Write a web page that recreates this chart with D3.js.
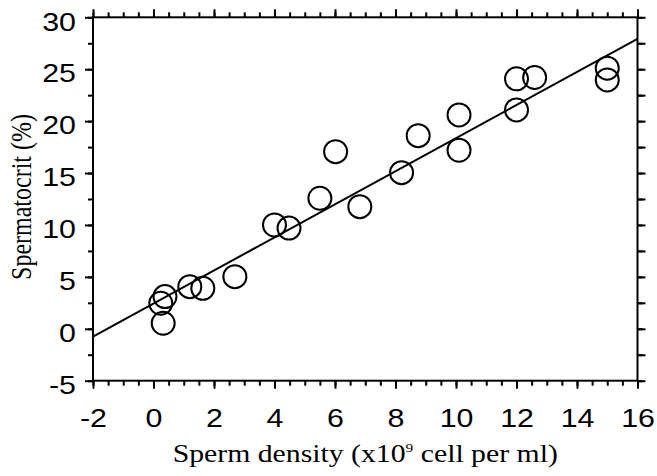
<!DOCTYPE html>
<html>
<head>
<meta charset="utf-8">
<script src="https://cdn.jsdelivr.net/npm/d3@7"></script>
<style>
  body { margin: 0; background: #fff; }
  svg { display: block; }
</style>
</head>
<body>
<svg id="chart" width="657" height="476"></svg>
<script>
// sperm density (x10^9 cell per ml)
var density = [0.24, 0.38, 0.32, 1.2, 1.63, 2.69, 4.0, 4.48, 5.5, 6.02, 6.82, 8.2, 8.75, 10.1, 10.1, 12.0, 12.6, 12.0, 15.0, 15.0];
// spermatocrit (%)
var spermatocrit = [2.46, 3.1, 0.53, 4.06, 3.9, 5.02, 10.0, 9.7, 12.57, 17.06, 11.76, 15.04, 18.6, 20.6, 17.2, 24.07, 24.2, 21.08, 25.1, 23.97];
// fitted line: intercept, slope
var fitLine = [2.43, 1.593];
var xTicks = [-2, 0, 2, 4, 6, 8, 10, 12, 14, 16];
var yTicks = [-5, 0, 5, 10, 15, 20, 25, 30];

var svg = d3.select("#chart");
var pLeft = 93, pRight = 637.5, pTop = 17.3, pBottom = 380.7;
var stretch = 1.19; // the original text is a bit wide

var x = d3.scaleLinear().domain([-2, 16]).range([pLeft, pRight]);
var y = d3.scaleLinear().domain([-5, 30]).range([pBottom, pTop]);

var xMinor = d3.range(-2, 16.01, 0.5);
var yMinor = d3.range(-5, 30.01, 2.5);

// tick helper, major ticks longer than minor
function drawAxis(axisFn, scale, minor, major, pos, showLabels) {
    var g = svg.append("g").attr("transform", pos);
    g.call(axisFn(scale).tickValues(minor).tickSize(5).tickFormat(""));
    g.select(".domain").remove();
    var g2 = svg.append("g").attr("transform", pos);
    g2.call(axisFn(scale).tickValues(major).tickSize(8).tickSizeOuter(0)
        .tickFormat(showLabels ? function(d) { return String(d); } : ""));
    g2.select(".domain").remove();
    svg.selectAll("g line").attr("stroke", "#000").attr("stroke-width", 2);
    return g2;
}

var bx = drawAxis(d3.axisBottom, x, xMinor, xTicks, "translate(0," + pBottom + ")", true);
bx.selectAll("text").attr("font-family", "Liberation Sans, Arial, sans-serif")
    .attr("font-size", 25.5).attr("fill", "#000").attr("dy", null).attr("y", null)
    .attr("transform", "translate(0,46) scale(" + stretch + ",1)");
drawAxis(d3.axisTop, x, xMinor, xTicks, "translate(0," + pTop + ")", false);
var ly = drawAxis(d3.axisLeft, y, yMinor, yTicks, "translate(" + pLeft + ",0)", true);
ly.selectAll("text").attr("font-family", "Liberation Sans, Arial, sans-serif")
    .attr("font-size", 25.5).attr("fill", "#000").attr("x", null).attr("dy", "0.5em")
    .attr("transform", "translate(-17,0) scale(" + stretch + ",1)");
drawAxis(d3.axisRight, y, yMinor, yMinor, "translate(" + pRight + ",0)", false);

// frame
svg.append("rect")
    .attr("x", pLeft).attr("y", pTop)
    .attr("width", pRight - pLeft).attr("height", pBottom - pTop)
    .attr("fill", "none").attr("stroke", "#000").attr("stroke-width", 2);

// regression line
svg.append("line")
    .attr("x1", x(-2)).attr("y1", y(fitLine[0] + fitLine[1] * -2))
    .attr("x2", x(16)).attr("y2", y(fitLine[0] + fitLine[1] * 16))
    .attr("stroke", "#000").attr("stroke-width", 2);

// points
svg.append("g").selectAll("circle")
    .data(density)
    .join("circle")
        .attr("cx", function(d) { return x(d); })
        .attr("cy", function(d, i) { return y(spermatocrit[i]); })
        .attr("r", 11.5)
        .attr("fill", "none")
        .attr("stroke", "#000")
        .attr("stroke-width", 2);

// axis titles
var xt = svg.append("text")
    .attr("transform", "translate(" + ((pLeft + pRight) / 2) + ",462) scale(" + stretch + ",1)")
    .attr("text-anchor", "middle")
    .attr("font-family", "Liberation Serif, Times New Roman, serif")
    .attr("font-size", 25).attr("fill", "#000");
xt.append("tspan").text("Sperm density (x10");
xt.append("tspan").attr("font-size", 13).attr("dy", -10).text("9");
xt.append("tspan").attr("dy", 10).text(" cell per ml)");

svg.append("text")
    .attr("transform", "translate(31,197) scale(" + stretch + ",1) rotate(-90)")
    .attr("text-anchor", "middle")
    .attr("font-family", "Liberation Serif, Times New Roman, serif")
    .attr("font-size", 24).attr("fill", "#000")
    .text("Spermatocrit (%)");
</script>
</body>
</html>
